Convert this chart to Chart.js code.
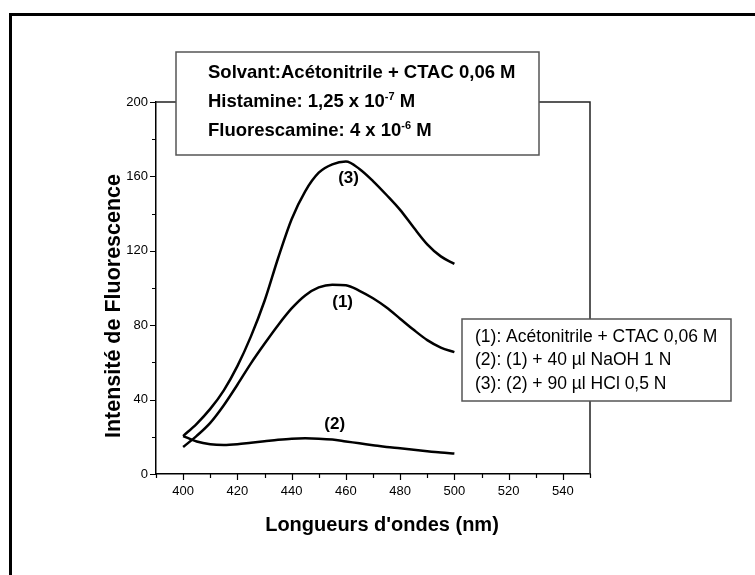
<!DOCTYPE html>
<html>
<head>
<meta charset="utf-8">
<script src="https://cdn.jsdelivr.net/npm/chart.js@4.4.0/dist/chart.umd.min.js"></script>
<style>
  html, body { margin: 0; padding: 0; background: #fff; }
  #wrap { width: 755px; height: 575px; position: relative; }
</style>
</head>
<body>
<div id="wrap"><canvas id="myChart" width="755" height="575"></canvas></div>
<script>
// wavelengths (nm) and intensities
const wavelengths = [400, 405, 410, 415, 420, 425, 430, 435, 440, 445, 450, 455, 460, 465, 470, 475, 480, 485, 490, 495, 500];
const curve1 = [14.5, 20.5, 27.5, 37, 48, 59.5, 70, 80, 89, 96, 100.3, 101.8, 101.5, 98.5, 94.5, 89.5, 83.5, 77.5, 72, 68, 65.5];
const curve2 = [20.4, 17.5, 16, 15.6, 16, 16.8, 17.6, 18.4, 19, 19.2, 19, 18.5, 17.5, 16.5, 15.5, 14.5, 13.8, 13, 12.2, 11.5, 11];
const curve3 = [20.4, 27, 35, 45, 58, 74, 93, 116, 137, 152, 162, 166.5, 168, 164, 157.5, 150, 142, 132.5, 123.5, 117, 113];

const xTickLabels = [400, 420, 440, 460, 480, 500, 520, 540];
const yTickLabels = [0, 40, 80, 120, 160, 200];

const xTitle = "Longueurs d'ondes (nm)";
const yTitle = "Intensité de Fluorescence";

const curveNames = ["(1)", "(2)", "(3)"];
const curveNameSpots = [[458.8, 92.2], [455.9, 26.9], [461, 158.9]];

const infoLines = [
  [["Solvant:Acétonitrile + CTAC 0,06 M", false]],
  [["Histamine: 1,25 x 10", false], ["-7", true], [" M", false]],
  [["Fluorescamine: 4 x 10", false], ["-6", true], [" M", false]]
];
const legendLines = [
  "(1): Acétonitrile + CTAC 0,06 M",
  "(2): (1) + 40 µl NaOH 1 N",
  "(3): (2) + 90 µl HCl 0,5 N"
];

const FONT = "Arial, 'Liberation Sans', sans-serif";

function toPoints(ys) {
  return wavelengths.map((x, i) => ({ x: x, y: ys[i] }));
}

const extras = {
  id: "extras",
  afterDraw(chart) {
    const ctx = chart.ctx;
    const { left, right, top, bottom } = chart.chartArea;
    const xs = chart.scales.x, ys = chart.scales.y;
    ctx.save();

    // top and right frame
    ctx.strokeStyle = "#222";
    ctx.lineWidth = 1.5;
    ctx.beginPath();
    ctx.moveTo(left, top);
    ctx.lineTo(right, top);
    ctx.lineTo(right, bottom);
    ctx.stroke();

    // ticks
    ctx.strokeStyle = "#000";
    ctx.lineWidth = 1.2;
    ctx.beginPath();
    xs.ticks.forEach(t => {
      const px = Math.round(xs.getPixelForValue(t.value)) + 0.5;
      const len = t.value % 20 === 0 ? 6 : 4;
      ctx.moveTo(px, bottom);
      ctx.lineTo(px, bottom + len);
    });
    ys.ticks.forEach(t => {
      const py = Math.round(ys.getPixelForValue(t.value)) + 0.5;
      const len = t.value % 40 === 0 ? 6 : 4;
      ctx.moveTo(left, py);
      ctx.lineTo(left - len, py);
    });
    ctx.stroke();

    // curve names
    ctx.fillStyle = "#000";
    ctx.font = "bold 17px " + FONT;
    ctx.textAlign = "center";
    ctx.textBaseline = "middle";
    curveNames.forEach((n, i) => {
      const s = curveNameSpots[i];
      ctx.fillText(n, xs.getPixelForValue(s[0]), ys.getPixelForValue(s[1]));
    });

    // info box
    ctx.fillStyle = "#fff";
    ctx.fillRect(176, 52, 363, 103);
    ctx.strokeStyle = "#555";
    ctx.lineWidth = 1.5;
    ctx.strokeRect(176, 52, 363, 103);
    ctx.fillStyle = "#000";
    ctx.textAlign = "left";
    ctx.textBaseline = "alphabetic";
    const baseY = [78, 107, 135.5];
    infoLines.forEach((segs, i) => {
      let x = 208;
      segs.forEach(([t, sup]) => {
        ctx.font = sup ? "bold 11px " + FONT : "bold 18.5px " + FONT;
        ctx.fillText(t, x, sup ? baseY[i] - 7 : baseY[i]);
        x += ctx.measureText(t).width;
      });
    });

    // legend box
    ctx.fillStyle = "#fff";
    ctx.fillRect(462, 319, 269, 82);
    ctx.strokeStyle = "#555";
    ctx.strokeRect(462, 319, 269, 82);
    ctx.fillStyle = "#000";
    ctx.font = "17.5px " + FONT;
    legendLines.forEach((t, i) => ctx.fillText(t, 475, 342 + i * 23.3));

    // axis titles
    ctx.font = "bold 20px " + FONT;
    ctx.textAlign = "center";
    ctx.textBaseline = "middle";
    ctx.fillText(xTitle, 382, 525);
    ctx.save();
    ctx.translate(114, 306);
    ctx.rotate(-Math.PI / 2);
    ctx.font = "bold 21.5px " + FONT;
    ctx.fillText(yTitle, 0, 0);
    ctx.restore();

    // outer frame
    ctx.strokeStyle = "#000";
    ctx.lineWidth = 3;
    ctx.beginPath();
    ctx.moveTo(10.5, 575);
    ctx.lineTo(10.5, 14.5);
    ctx.lineTo(755, 14.5);
    ctx.stroke();

    ctx.restore();
  }
};

const lineStyle = {
  borderColor: "#000",
  borderWidth: 2.5,
  pointRadius: 0,
  cubicInterpolationMode: "monotone",
  fill: false
};

new Chart(document.getElementById("myChart"), {
  type: "line",
  data: {
    datasets: [
      Object.assign({ label: curveNames[0], data: toPoints(curve1) }, lineStyle),
      Object.assign({ label: curveNames[1], data: toPoints(curve2) }, lineStyle),
      Object.assign({ label: curveNames[2], data: toPoints(curve3) }, lineStyle)
    ]
  },
  options: {
    responsive: false,
    animation: false,
    layout: { padding: { left: 0, top: 102, right: 165, bottom: 0 } },
    plugins: { legend: { display: false }, tooltip: { enabled: false } },
    scales: {
      x: {
        type: "linear",
        min: 390,
        max: 550,
        grid: { display: false, drawTicks: false },
        border: { display: true, color: "#000", width: 1.5 },
        ticks: {
          stepSize: 10,
          autoSkip: false,
          maxRotation: 0,
          padding: 10,
          color: "#000",
          font: { family: FONT, size: 13 },
          callback: v => (xTickLabels.includes(v) ? String(v) : "")
        },
        afterFit: s => { s.height = 101; }
      },
      y: {
        min: 0,
        max: 200,
        grid: { display: false, drawTicks: false },
        border: { display: true, color: "#000", width: 1.5 },
        ticks: {
          stepSize: 20,
          autoSkip: false,
          padding: 8,
          color: "#000",
          font: { family: FONT, size: 13 },
          callback: v => (yTickLabels.includes(v) ? String(v) : "")
        },
        afterFit: s => { s.width = 156; }
      }
    }
  },
  plugins: [extras]
});
</script>
</body>
</html>
